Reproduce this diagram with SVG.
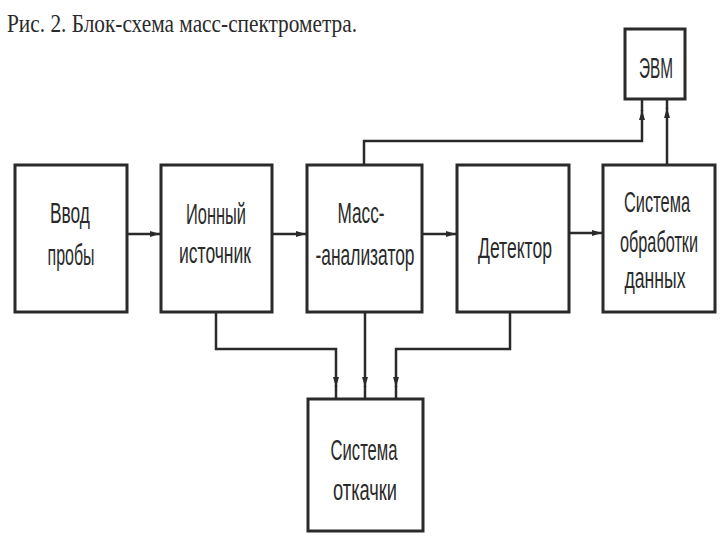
<svg xmlns="http://www.w3.org/2000/svg" width="720" height="540" viewBox="0 0 720 540">
<defs>
<marker id="ah" viewBox="0 0 10 6" refX="10" refY="3" markerWidth="10" markerHeight="6" markerUnits="userSpaceOnUse" orient="auto">
<path d="M0,0 L10,3 L0,6 Z" fill="#2a2a2a"/>
</marker>
</defs>
<style>
.box{fill:#fff;stroke:#2a2a2a;stroke-width:3}
.lbl{font-family:"Liberation Sans Narrow","Liberation Sans",Arial,sans-serif;font-size:22px;fill:#2a2a2a;text-anchor:middle}
.sm{font-size:19px}
.ttl{font-family:"Liberation Serif","Times New Roman",serif;font-size:26px;fill:#2a2a2a}
.c{fill:none;stroke:#2a2a2a;stroke-width:2.5}
</style>
<rect width="720" height="540" fill="#fff"/>
<text class="ttl" x="7" y="32" textLength="350" lengthAdjust="spacingAndGlyphs">Рис. 2. Блок-схема масс-спектрометра.</text>
<g id="connectors">
<path class="c" d="M127 234 H160" marker-end="url(#ah)"/>
<path class="c" d="M272 234 H306" marker-end="url(#ah)"/>
<path class="c" d="M422 234 H456" marker-end="url(#ah)"/>
<path class="c" d="M569 233 H602" marker-end="url(#ah)"/>
<path class="c" d="M364 165 V141 H642 V110" marker-end="url(#ah)"/>
<path class="c" d="M642 111 V99"/>
<path class="c" d="M667 165 V108" marker-end="url(#ah)"/>
<path class="c" d="M667 109 V99"/>
<path class="c" d="M216 313 V349 H336 V387" marker-end="url(#ah)"/>
<path class="c" d="M336 386 V399"/>
<path class="c" d="M365 313 V387" marker-end="url(#ah)"/>
<path class="c" d="M365 386 V399"/>
<path class="c" d="M510 313 V349 H396 V387" marker-end="url(#ah)"/>
<path class="c" d="M396 386 V399"/>
</g>
<g id="evm">
<rect class="box" x="625" y="29" width="60" height="70"/>
<text class="lbl" transform="translate(656,78) scale(1,1.35)" textLength="34" lengthAdjust="spacingAndGlyphs">ЭВМ</text>
</g>
<g id="vvod">
<rect class="box" x="15" y="165" width="112" height="147"/>
<text class="lbl" transform="translate(70,223) scale(1,1.35)" textLength="40" lengthAdjust="spacingAndGlyphs">Ввод</text>
<text class="lbl" transform="translate(71,265) scale(1,1.35)" textLength="47" lengthAdjust="spacingAndGlyphs">пробы</text>
</g>
<g id="ion">
<rect class="box" x="161" y="165" width="111" height="147"/>
<text class="lbl" transform="translate(216,224) scale(1,1.35)" textLength="60" lengthAdjust="spacingAndGlyphs">Ионный</text>
<text class="lbl" transform="translate(215,263) scale(1,1.35)" textLength="72" lengthAdjust="spacingAndGlyphs">источник</text>
</g>
<g id="mass">
<rect class="box" x="307" y="165" width="115" height="147"/>
<text class="lbl" transform="translate(361,223) scale(1,1.35)" textLength="47" lengthAdjust="spacingAndGlyphs">Масс-</text>
<text class="lbl" transform="translate(365,265) scale(1,1.35)" textLength="99" lengthAdjust="spacingAndGlyphs">-анализатор</text>
</g>
<g id="det">
<rect class="box" x="457" y="165" width="112" height="147"/>
<text class="lbl" transform="translate(515,258) scale(1,1.35)" textLength="74" lengthAdjust="spacingAndGlyphs">Детектор</text>
</g>
<g id="obr">
<rect class="box" x="603" y="165" width="112" height="147"/>
<text class="lbl" transform="translate(657,212) scale(1,1.35)" textLength="66" lengthAdjust="spacingAndGlyphs">Система</text>
<text class="lbl sm" transform="translate(659,252) scale(1,1.56)" textLength="78" lengthAdjust="spacingAndGlyphs">обработки</text>
<text class="lbl" transform="translate(655,288) scale(1,1.35)" textLength="61" lengthAdjust="spacingAndGlyphs">данных</text>
</g>
<g id="otk">
<rect class="box" x="308" y="399" width="115" height="132"/>
<text class="lbl" transform="translate(364,460) scale(1,1.35)" textLength="67" lengthAdjust="spacingAndGlyphs">Система</text>
<text class="lbl" transform="translate(365,500) scale(1,1.35)" textLength="64" lengthAdjust="spacingAndGlyphs">откачки</text>
</g>
</svg>
